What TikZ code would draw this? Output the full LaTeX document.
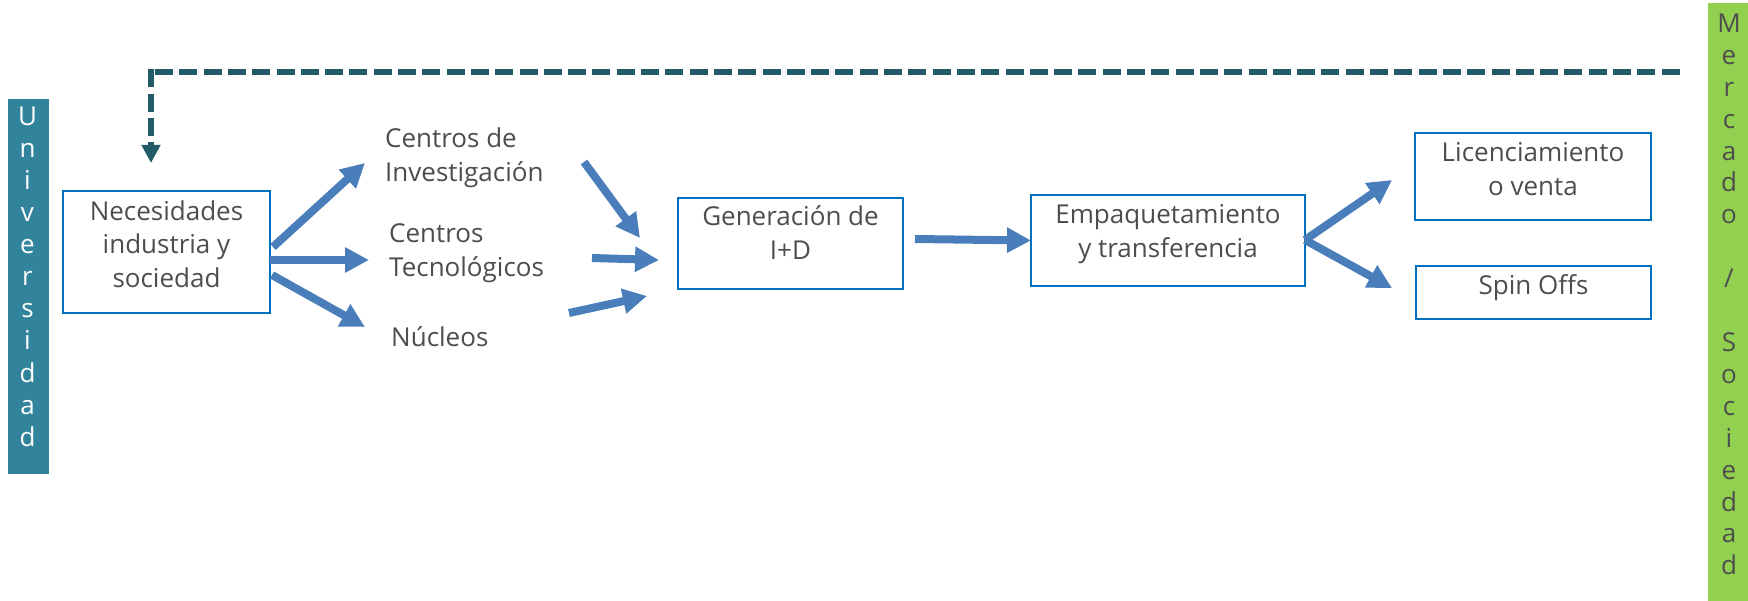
\documentclass[tikz,border=0pt]{standalone}
\usepackage{fontspec}
\setmainfont{Open Sans}
\usetikzlibrary{arrows.meta}
\definecolor{uniTeal}{HTML}{31849B}
\definecolor{merGreen}{HTML}{92D050}
\definecolor{dashTeal}{HTML}{235A68}
\definecolor{arrBlue}{HTML}{4A7EBB}
\definecolor{boxBlue}{HTML}{0070C0}
\definecolor{txtGray}{HTML}{4D4D4D}
\begin{document}
\begin{tikzpicture}[x=1pt,y=-1pt,
  box/.style={draw=boxBlue, line width=1.8pt, inner sep=0pt},
  txt/.style={text=txtGray, font=\fontsize{26}{33.75}\selectfont, align=center, inner sep=0pt},
  txtl/.style={txt, align=left},
  letter/.style={font=\fontsize{26}{32}\selectfont, inner sep=0pt, anchor=base},
  flow/.style={draw=arrBlue, line width=8pt, -{Triangle[length=24pt,width=24pt]}},
  feedback/.style={draw=dashTeal, line width=5.5pt, dash pattern=on 18pt off 6.3pt}
]
\useasboundingbox (0,0) rectangle (1748,601);

% side bars
\node[fill=uniTeal, inner sep=0pt, minimum width=41pt, minimum height=375pt, anchor=north west] (ubar) at (8,99) {};
\node[fill=merGreen, inner sep=0pt, minimum width=40pt, minimum height=598pt, anchor=north west] (mbar) at (1708,3) {};
\foreach \ch [count=\i from 0] in {U,n,i,v,e,r,s,i,d,a,d}
  \node[letter, text=white] (u\i) at (27.5,126+32*\i) {\ch};
\foreach \i/\ch in {0/M,1/e,2/r,3/c,4/a,5/d,6/o,8/{/},10/S,11/o,12/c,13/i,14/e,15/d,16/a,17/d}
  \node[letter, text=txtGray] (m\i) at (1729,32.5+31.9*\i) {\ch};

% boxes (text anchored at the baseline of its last line)
\node[box, minimum width=207pt, minimum height=122pt] (nec) at (166.5,252) {};
\node[txt, anchor=base] (nect) at (166.5,287.7) {Necesidades\\industria y\\sociedad};

\node[txtl, anchor=base west] (ci) at (385,181.5) {Centros de\\Investigación};
\node[txtl, anchor=base west] (ct) at (389,276.5) {Centros\\Tecnológicos};
\node[txtl, anchor=base west] (nu) at (391,346.7) {Núcleos};

\node[box, minimum width=225pt, minimum height=91pt] (gen) at (790.5,243.5) {};
\node[txt, anchor=base] (gent) at (790.5,259.5) {Generación de\\I+D};

\node[box, minimum width=274pt, minimum height=91pt] (emp) at (1168,240.5) {};
\node[txt, anchor=base] (empt) at (1168,257.5) {Empaquetamiento\\y transferencia};

\node[box, minimum width=236pt, minimum height=87pt] (lic) at (1533,176.5) {};
\node[txt, anchor=base] (lict) at (1533,195.5) {Licenciamiento\\o venta};

\node[box, minimum width=235pt, minimum height=53pt] (spin) at (1533.5,292.5) {};
\node[txt, anchor=base] (spint) at (1533.5,295) {Spin Offs};

% arrow end points
\coordinate (a1s) at (273,247); \coordinate (a1e) at (365,163);
\coordinate (a2s) at (270,260); \coordinate (a2e) at (369,260);
\coordinate (a3s) at (272,275); \coordinate (a3e) at (365,327);
\coordinate (b1s) at (584,162); \coordinate (b1e) at (640,238);
\coordinate (b2s) at (592,258); \coordinate (b2e) at (659,260);
\coordinate (b3s) at (569,313); \coordinate (b3e) at (647,296);
\coordinate (c1s) at (915,239); \coordinate (c1e) at (1031,240.5);
\coordinate (d0)  at (1305,240); \coordinate (d1e) at (1392,180); \coordinate (d2e) at (1392,288);

\draw[flow] (a1s) -- (a1e);
\draw[flow] (a2s) -- (a2e);
\draw[flow] (a3s) -- (a3e);
\draw[flow] (b1s) -- (b1e);
\draw[flow] (b2s) -- (b2e);
\draw[flow] (b3s) -- (b3e);
\draw[flow] (c1s) -- (c1e);
\draw[flow] (d0) -- (d1e);
\draw[flow] (d0) -- (d2e);

% feedback dashed line
\coordinate (fb0) at (155,72);
\coordinate (fb1) at (1680,72);
\coordinate (fc) at (151,69.5);
\coordinate (fe) at (151,163);
\draw[feedback] (fb0) -- (fb1);
\draw[feedback, -{Triangle[length=18pt,width=18pt]}] (fc) -- (fe);
\end{tikzpicture}
\end{document}
